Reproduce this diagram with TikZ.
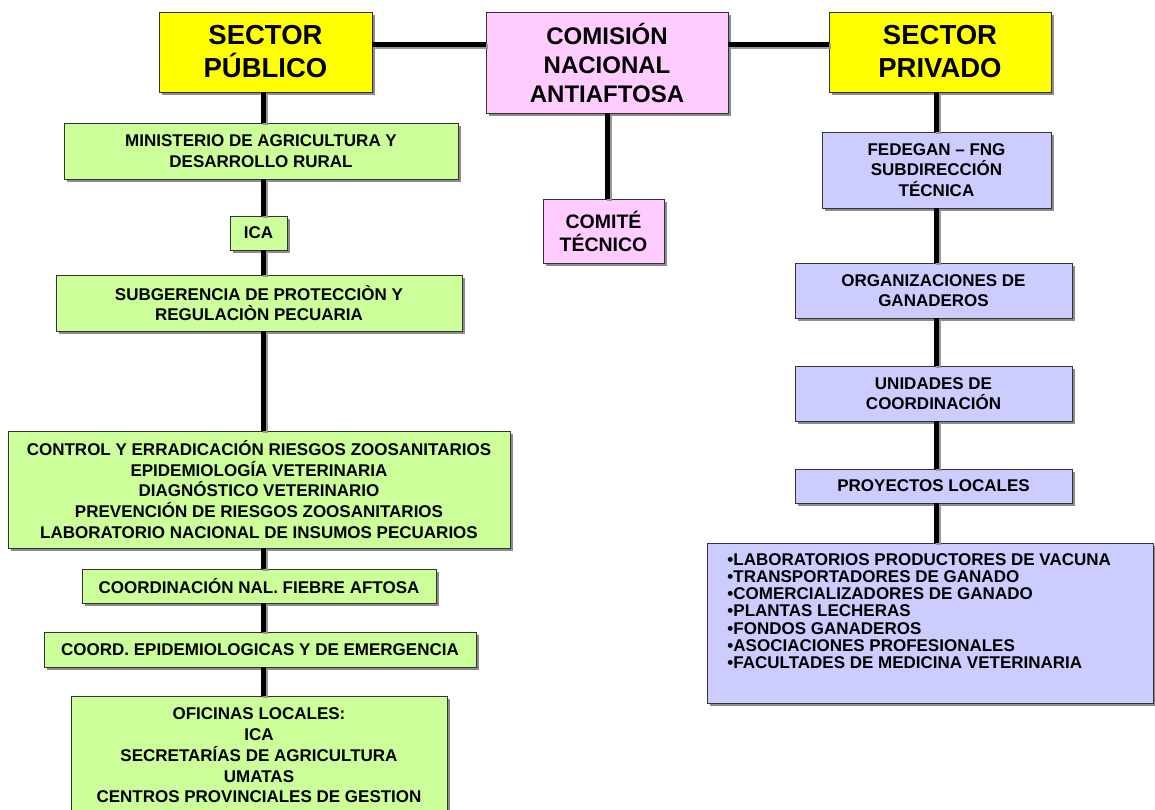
\documentclass[tikz,border=0pt]{standalone}
\usepackage{fontspec}
\setmainfont{Liberation Sans}
\usetikzlibrary{shadows,calc}
\definecolor{cyel}{HTML}{FFFF00}
\definecolor{cpink}{HTML}{FFCCFF}
\definecolor{cgreen}{HTML}{CCFF99}
\definecolor{clav}{HTML}{CCCCFF}
\definecolor{cborder}{HTML}{333333}
\begin{document}
\begin{tikzpicture}[x=1pt,y=-1pt,
  box/.style={draw=cborder, line width=0.9pt, inner sep=0pt, align=center,
    drop shadow={shadow xshift=2.5pt, shadow yshift=-2.5pt, fill=black!45, opacity=1}},
  bigfont/.style={font=\fontsize{27.5}{33}\selectfont\bfseries},
  midfont/.style={font=\fontsize{24}{29}\selectfont\bfseries},
  comfont/.style={font=\fontsize{19.5}{23}\selectfont\bfseries},
  smallfont/.style={font=\fontsize{17}{20.7}\selectfont\bfseries},
  listfont/.style={font=\fontsize{17}{17.2}\selectfont\bfseries},
  pub/.style={box, fill=cgreen, smallfont},
  priv/.style={box, fill=clav, smallfont},
  conn/.style={line width=5pt, black,
    preaction={draw=black!40, line width=5pt, transform canvas={xshift=2pt, yshift=-2pt}}}
]
\useasboundingbox (0,0) rectangle (1155,809);
\clip (0,0) rectangle (1155,809);

% top row
\node[box, fill=cyel, bigfont, minimum width=213pt, minimum height=80pt] (sp) at (265.5,52) {SECTOR\\PÚBLICO};
\node[box, fill=cpink, midfont, minimum width=242pt, minimum height=101pt] (cna) at (607,62.5) {COMISIÓN\\NACIONAL\\ANTIAFTOSA};
\node[box, fill=cyel, bigfont, minimum width=222pt, minimum height=80pt] (spr) at (940,52) {SECTOR\\PRIVADO};
\node[box, fill=cpink, comfont, minimum width=121pt, minimum height=64pt] (com) at (603.5,231) {COMITÉ\\TÉCNICO};

% public column
\node[pub, minimum width=394pt, minimum height=56pt] (madr) at (261,151) {MINISTERIO DE AGRICULTURA Y\\DESARROLLO RURAL};
\node[pub, minimum width=57pt, minimum height=34pt] (ica) at (258.5,233) {ICA};
\node[pub, minimum width=406pt, minimum height=56pt] (sub) at (259,303) {SUBGERENCIA DE PROTECCIÒN Y\\REGULACIÒN PECUARIA};
\node[pub, minimum width=502pt, minimum height=117pt] (ctrl) at (259,489.5) {CONTROL Y ERRADICACIÓN RIESGOS ZOOSANITARIOS\\EPIDEMIOLOGÍA VETERINARIA\\DIAGNÓSTICO VETERINARIO\\PREVENCIÓN DE RIESGOS ZOOSANITARIOS\\LABORATORIO NACIONAL DE INSUMOS PECUARIOS};
\node[pub, minimum width=354pt, minimum height=34pt] (cnf) at (259,586) {COORDINACIÓN NAL. FIEBRE AFTOSA};
\node[pub, minimum width=432pt, minimum height=35pt] (cee) at (260,649.5) {COORD. EPIDEMIOLOGICAS Y DE EMERGENCIA};
\node[pub, minimum width=376pt, minimum height=119pt] (ofi) at (259,755.5) {OFICINAS LOCALES:\\ICA\\SECRETARÍAS DE AGRICULTURA\\UMATAS\\CENTROS PROVINCIALES DE GESTION};

% private column
\node[priv, minimum width=229pt, minimum height=76pt] (fed) at (936.5,170) {FEDEGAN – FNG\\SUBDIRECCIÓN\\TÉCNICA};
\node[priv, minimum width=277pt, minimum height=55pt] (org) at (933.5,290.5) {ORGANIZACIONES DE\\GANADEROS};
\node[priv, minimum width=277pt, minimum height=55pt] (uni) at (933.5,393.5) {UNIDADES DE\\COORDINACIÓN};
\node[priv, minimum width=277pt, minimum height=34pt] (pro) at (933.5,486) {PROYECTOS LOCALES};
\node[box, fill=clav, listfont, anchor=north west, minimum width=446pt, minimum height=160pt] (lst) at (707,543)
  {\begin{minipage}[c][160pt][t]{406pt}\raggedright\vspace*{10pt}%
   •LABORATORIOS PRODUCTORES DE VACUNA\\•TRANSPORTADORES DE GANADO\\•COMERCIALIZADORES DE GANADO\\•PLANTAS LECHERAS\\•FONDOS GANADEROS\\•ASOCIACIONES PROFESIONALES\\•FACULTADES DE MEDICINA VETERINARIA\end{minipage}};

% connectors
\coordinate (lx) at (263,0);
\coordinate (rx) at (936,0);
\coordinate (h1) at ([yshift=8pt]sp.east);
\draw[conn] (h1) -- (h1 -| cna.west);
\draw[conn] (h1 -| cna.east) -- (h1 -| spr.west);
\draw[conn] (cna.south) -- (cna.south |- com.north);

\draw[conn] (sp.south -| lx) -- (madr.north -| lx);
\draw[conn] (madr.south -| lx) -- (ica.north -| lx);
\draw[conn] (ica.south -| lx) -- (sub.north -| lx);
\draw[conn] (sub.south -| lx) -- (ctrl.north -| lx);
\draw[conn] (ctrl.south -| lx) -- (cnf.north -| lx);
\draw[conn] (cnf.south -| lx) -- (cee.north -| lx);
\draw[conn] (cee.south -| lx) -- (ofi.north -| lx);

\draw[conn] (spr.south -| rx) -- (fed.north -| rx);
\draw[conn] (fed.south -| rx) -- (org.north -| rx);
\draw[conn] (org.south -| rx) -- (uni.north -| rx);
\draw[conn] (uni.south -| rx) -- (pro.north -| rx);
\draw[conn] (pro.south -| rx) -- (lst.north -| rx);
\end{tikzpicture}
\end{document}
